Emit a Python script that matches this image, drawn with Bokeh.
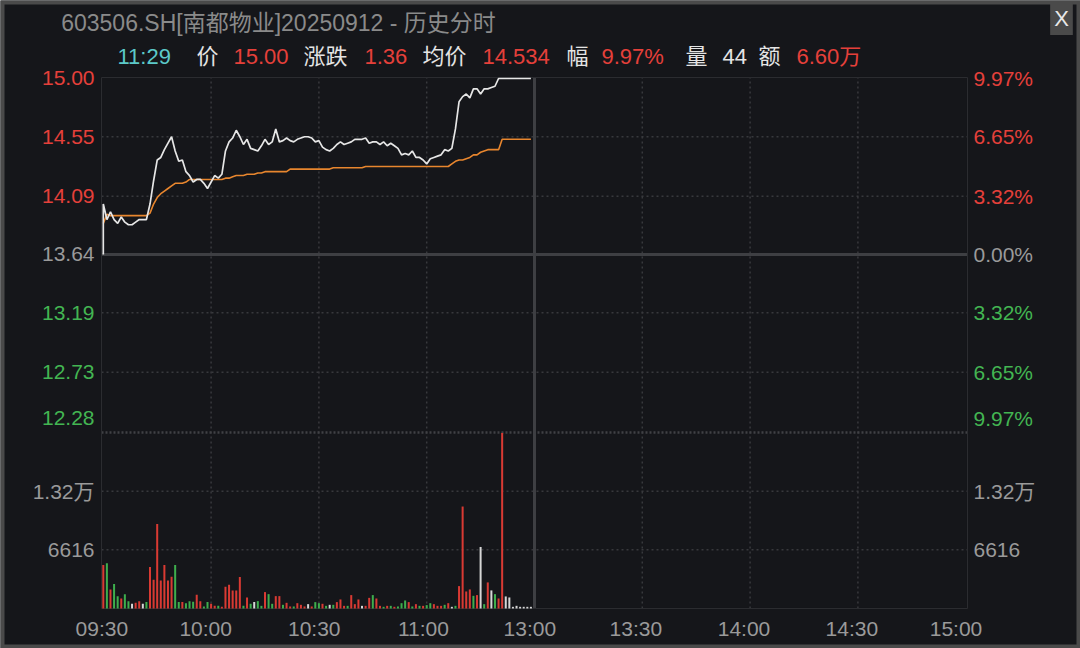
from bokeh.plotting import figure
from bokeh.models import Range1d, Label
from bokeh.embed import file_html
from bokeh.resources import INLINE

# ---------------- data ----------------
prev_close = 13.64
open_price = 13.64
price = [14.03, 13.91, 13.97, 13.91, 13.88, 13.93, 13.89, 13.87, 13.87, 13.89,
         13.91, 13.91, 13.91, 14.03, 14.21, 14.37, 14.39, 14.45, 14.50, 14.55,
         14.44, 14.36, 14.37, 14.28, 14.25, 14.20, 14.22, 14.22, 14.19, 14.15,
         14.20, 14.25, 14.23, 14.26, 14.44, 14.51, 14.54, 14.60, 14.55, 14.49,
         14.53, 14.46, 14.45, 14.44, 14.48, 14.53, 14.49, 14.51, 14.61, 14.51,
         14.52, 14.54, 14.52, 14.51, 14.53, 14.54, 14.55, 14.55, 14.54, 14.51,
         14.52, 14.47, 14.45, 14.44, 14.46, 14.49, 14.51, 14.49, 14.50, 14.51,
         14.53, 14.53, 14.53, 14.54, 14.50, 14.51, 14.51, 14.49, 14.51, 14.48,
         14.50, 14.48, 14.46, 14.41, 14.42, 14.41, 14.44, 14.39, 14.39, 14.37,
         14.34, 14.38, 14.39, 14.40, 14.41, 14.45, 14.44, 14.46, 14.61, 14.82,
         14.86, 14.88, 14.85, 14.92, 14.92, 14.88, 14.92, 14.92, 14.93, 14.94,
         15.00, 15.00, 15.00, 15.00, 15.00, 15.00, 15.00, 15.00, 15.00, 15.00]
avg_price = [13.88, 13.95, 13.94, 13.94, 13.94, 13.94, 13.94, 13.94, 13.94, 13.94,
             13.94, 13.94, 13.94, 13.96, 14.03, 14.08, 14.11, 14.13, 14.15, 14.17,
             14.19, 14.19, 14.19, 14.20, 14.22, 14.22, 14.22, 14.22, 14.22, 14.22,
             14.22, 14.22, 14.22, 14.22, 14.23, 14.23, 14.24, 14.25, 14.25, 14.25,
             14.26, 14.26, 14.26, 14.27, 14.27, 14.28, 14.28, 14.28, 14.28, 14.28,
             14.28, 14.28, 14.30, 14.30, 14.30, 14.30, 14.30, 14.30, 14.30, 14.30,
             14.30, 14.30, 14.30, 14.30, 14.31, 14.31, 14.31, 14.31, 14.31, 14.31,
             14.31, 14.31, 14.31, 14.32, 14.32, 14.32, 14.32, 14.32, 14.32, 14.32,
             14.32, 14.32, 14.32, 14.32, 14.32, 14.32, 14.32, 14.32, 14.32, 14.32,
             14.32, 14.32, 14.32, 14.32, 14.32, 14.32, 14.32, 14.34, 14.36, 14.37,
             14.37, 14.38, 14.39, 14.41, 14.41, 14.43, 14.44, 14.45, 14.45, 14.45,
             14.45, 14.53, 14.53, 14.53, 14.53, 14.53, 14.53, 14.53, 14.53, 14.53]
volume = [4900, 5090, 2150, 2750, 1395, 1130, 1620, 830, 530, 640,
          830, 530, 720, 4675, 3240, 9540, 3170, 4900, 3170, 3580,
          4900, 720, 720, 600, 830, 750, 1550, 830, 230, 720,
          530, 300, 300, 190, 2450, 2680, 2040, 2040, 3540, 300,
          1245, 530, 720, 830, 300, 1850, 1620, 530, 1395, 1395,
          415, 640, 230, 230, 600, 415, 230, 490, 230, 720,
          600, 530, 300, 415, 415, 720, 1020, 300, 300, 1510,
          490, 1020, 300, 300, 1200, 1510, 1130, 300, 190, 300,
          300, 190, 230, 600, 905, 720, 230, 490, 300, 300,
          380, 600, 490, 300, 300, 415, 600, 190, 300, 2525,
          11500, 1920, 2150, 1430, 1510, 6940, 490, 2940, 2040, 1620,
          1130, 19800, 1360, 1245, 190, 300, 190, 190, 190, 190]
vol_dir = ["r", "g", "r", "g", "g", "r", "g", "g", "w", "r",
           "r", "w", "g", "r", "r", "r", "r", "r", "r", "r",
           "g", "g", "r", "g", "g", "g", "r", "r", "g", "g",
           "r", "r", "g", "r", "r", "r", "r", "r", "r", "g",
           "r", "g", "w", "g", "g", "r", "g", "g", "r", "r",
           "g", "r", "r", "g", "r", "r", "r", "w", "r", "g",
           "g", "r", "g", "w", "g", "r", "r", "r", "g", "r",
           "r", "r", "w", "r", "r", "g", "r", "r", "g", "r",
           "g", "r", "g", "g", "g", "r", "g", "r", "g", "r",
           "g", "g", "r", "r", "r", "g", "r", "w", "g", "r",
           "r", "r", "r", "g", "r", "w", "g", "r", "w", "g",
           "r", "r", "w", "w", "w", "w", "w", "w", "w", "w"]

time_minutes = [0, 30, 60, 90, 120, 150, 180, 210, 240]
time_labels = ["09:30", "10:00", "10:30", "11:00", "13:00", "13:30", "14:00", "14:30", "15:00"]
price_ticks = [15.00, 14.55, 14.09, 13.64, 13.19, 12.73, 12.28]
price_labels = ["15.00", "14.55", "14.09", "13.64", "13.19", "12.73", "12.28"]
pct_labels = ["9.97%", "6.65%", "3.32%", "0.00%", "3.32%", "6.65%", "9.97%"]
vol_ticks = [13232, 6616]
vol_labels = ["1.32万", "6616"]
vol_top = 19848

title_text = "603506.SH[南都物业]20250912 - 历史分时"
info_texts = ["11:29", "价", "15.00", "涨跌", "1.36", "均价", "14.534",
              "幅", "9.97%", "量", "44", "额", "6.60万"]

# ---------------- layout / style ----------------
W, H = 1080, 648
XR = (-28.607, 271.947)            # x range covering the whole canvas
YR = (10.5954, 15.6027)            # price range covering the whole canvas
VR = (-4510.9, 68565.0)            # volume range covering the whole canvas
X_LO, X_HI = -0.5, 240.5           # session span (minutes) incl. half-bar padding
P_TOP, P_BOT = 15.0077, 10.9045    # price scale at the panel's top and bottom edges
BG = "#15161a"
RED = "#e5403a"
GREEN = "#43b552"
GRAY = "#9a9a9a"
WHITE = "#e4e4e4"
CYAN = "#5cc9c9"
GRID = "#38393d"
FRAME = "#2c2d31"
FONT = "'Liberation Sans', 'Noto Sans CJK SC'"

bar_colors = {"r": "#d93a33", "g": "#3eae4d", "w": "#d6d6d6"}
info_colors = [CYAN, WHITE, RED, WHITE, RED, WHITE, RED, WHITE, RED, WHITE, WHITE, WHITE, RED]
info_x = [117, 196, 233, 303, 364, 422, 482, 566, 601, 685, 722, 758, 796]
tick_colors = [RED, RED, RED, GRAY, GREEN, GREEN, GREEN]
label_lift = [0, 0, 0, 0, 0, 0, 12]
xlabel_shift = [-0.4, -1.5, -1.3, -0.9, -1.3, -1.8, -1.7, -1.7, -2.7]

minutes = list(range(len(price)))

p = figure(width=W, height=H, output_backend="svg", toolbar_location=None,
           x_range=Range1d(*XR), y_range=Range1d(*YR),
           x_axis_location=None, y_axis_location=None,
           min_border=0, min_border_left=0, min_border_right=0, min_border_top=0, min_border_bottom=0,
           background_fill_color=BG, border_fill_color=BG, outline_line_color=None)
p.extra_y_ranges = {"vol": Range1d(*VR)}
p.grid.visible = False

# window border
p.quad(left=[XR[0]], right=[XR[1]], bottom=[YR[0]], top=[YR[1]],
       fill_color=None, line_color="#4a4a4a", line_width=8)

# grid lines (dotted)
vgrid = [30, 60, 90, 150, 180, 210]
p.segment(x0=vgrid, x1=vgrid, y0=[P_BOT] * len(vgrid), y1=[P_TOP] * len(vgrid),
          line_color=GRID, line_dash="2 3", line_width=1.5)
hgrid = [14.55, 14.09, 13.19, 12.73]
p.segment(x0=[X_LO] * len(hgrid), x1=[X_HI] * len(hgrid), y0=hgrid, y1=hgrid,
          line_color=GRID, line_dash="2 3", line_width=1.5)
p.segment(x0=[X_LO] * len(vol_ticks), x1=[X_HI] * len(vol_ticks), y0=vol_ticks, y1=vol_ticks,
          y_range_name="vol", line_color=GRID, line_dash="2 3", line_width=1.5)
# panel separator (limit-down line / top of volume panel)
p.segment(x0=[X_LO], x1=[X_HI], y0=[vol_top], y1=[vol_top], y_range_name="vol",
          line_color="#404145", line_dash="2 2", line_width=2.5)
# previous close and lunch break
p.segment(x0=[X_LO], x1=[X_HI], y0=[prev_close], y1=[prev_close],
          line_color="#3e3f43", line_width=3)
p.segment(x0=[120], x1=[120], y0=[P_BOT], y1=[P_TOP], line_color="#3e3f43", line_width=3)
# panel frame
p.quad(left=[X_LO], right=[X_HI], bottom=[P_BOT], top=[P_TOP],
       fill_color=None, line_color=FRAME, line_width=1)

# volume bars
p.vbar(x=minutes, top=volume, bottom=0, width=0.56, y_range_name="vol",
       fill_color=[bar_colors[d] for d in vol_dir], line_color=None)

# price lines
p.line(x=minutes, y=avg_price, line_color="#e8862e", line_width=1.6)
p.line(x=[0] + minutes, y=[open_price] + price, line_color="#e6e6e6", line_width=1.7)

# y labels
for val, lab, pct, col, lift in zip(price_ticks, price_labels, pct_labels, tick_colors, label_lift):
    p.add_layout(Label(x=X_LO, y=val, text=lab, x_offset=-7, y_offset=lift, text_align="right",
                       text_baseline="middle", text_color=col, text_font=FONT, text_font_size="21px"))
    p.add_layout(Label(x=X_HI, y=val, text=pct, x_offset=6, y_offset=lift, text_align="left",
                       text_baseline="middle", text_color=col, text_font=FONT, text_font_size="21px"))
for val, lab in zip(vol_ticks, vol_labels):
    p.add_layout(Label(x=X_LO, y=val, text=lab, y_range_name="vol", x_offset=-7, text_align="right",
                       text_baseline="middle", text_color=GRAY, text_font=FONT, text_font_size="21px"))
    p.add_layout(Label(x=X_HI, y=val, text=lab, y_range_name="vol", x_offset=6, text_align="left",
                       text_baseline="middle", text_color=GRAY, text_font=FONT, text_font_size="21px"))

# x (time) labels
for m, s, lab in zip(time_minutes, xlabel_shift, time_labels):
    p.add_layout(Label(x=m + s, y=20, y_units="screen", text=lab, text_align="center",
                       text_baseline="middle", text_color=GRAY, text_font=FONT, text_font_size="21px"))

# header
p.add_layout(Label(x=278, y=H - 22, x_units="screen", y_units="screen", text=title_text,
                   text_align="center", text_baseline="middle", text_color="#8a8a8a",
                   text_font=FONT, text_font_size="23px"))
for t, c, xx in zip(info_texts, info_colors, info_x):
    p.add_layout(Label(x=xx, y=H - 56, x_units="screen", y_units="screen", text=t,
                       text_align="left", text_baseline="middle", text_color=c,
                       text_font=FONT, text_font_size="22px"))
p.add_layout(Label(x=1061, y=H - 18, x_units="screen", y_units="screen", text="X",
                   text_align="center", text_baseline="middle", text_color="#e8e8e8",
                   text_font=FONT, text_font_size="22px",
                   background_fill_color="#4a4a4a", padding=4))

open("out.html", "w").write(file_html(p, INLINE))
